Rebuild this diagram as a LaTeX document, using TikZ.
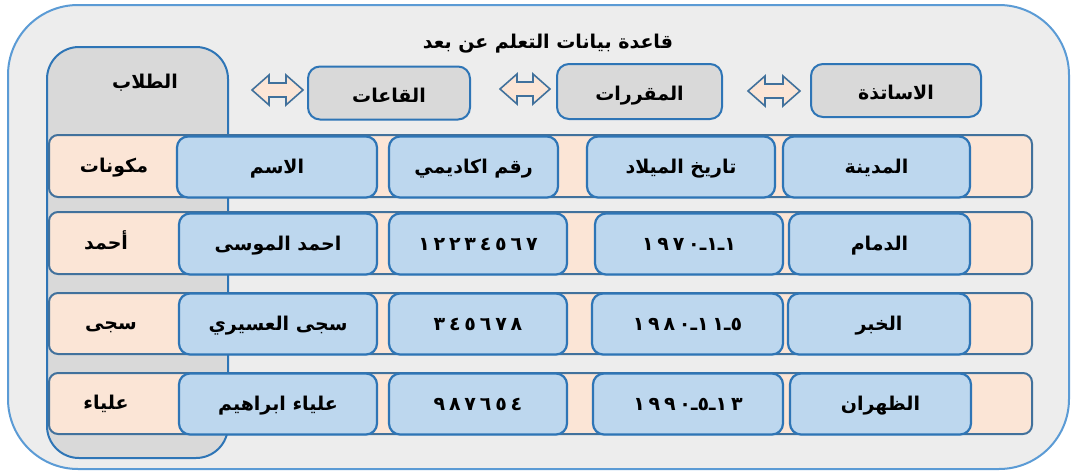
\documentclass[tikz,border=0pt]{standalone}
\usepackage{fontspec}
\TeXXeTstate=1
\newfontfamily\arabicfont[Script=Arabic]{DejaVu Sans}
\newfontfamily\digitfont[LetterSpace=20]{DejaVu Sans}
\newcommand\artext[1]{\beginR #1\endR}
\newcommand\dg[1]{\hbox{\digitfont\bfseries #1}}
\newcommand\dash{\dg{ـ}}

\definecolor{bgfill}{HTML}{EDEDED}
\definecolor{outerline}{HTML}{5B9BD5}
\definecolor{grayfill}{HTML}{D9D9D9}
\definecolor{boxline}{HTML}{2E75B6}
\definecolor{peach}{HTML}{FBE5D6}
\definecolor{rowline}{HTML}{41719C}
\definecolor{bluefill}{HTML}{BDD7EE}

\tikzset{
  every node/.style={font=\arabicfont\bfseries\fontsize{19}{22}\selectfont, text=black,
    inner sep=0pt, text height=15pt, text depth=3pt},
  panel/.style={draw=outerline, line width=2pt, fill=bgfill, rounded corners=70pt},
  graybox/.style={draw=boxline, line width=2pt, fill=grayfill, rounded corners=12pt},
  tablebox/.style={graybox, text height=19pt, text depth=1pt},
  studentbox/.style={graybox, rounded corners=32pt},
  rowbar/.style={draw=rowline, line width=2pt, fill=peach, rounded corners=9pt, minimum width=983pt},
  cell/.style={draw=boxline, line width=2.2pt, fill=bluefill, rounded corners=11pt},
  arrowshape/.style={draw=rowline, line width=1.6pt, fill=peach, line join=miter},
}

% left-right double arrow between x1 and x2, centred on y
\newcommand\dblarrow[3]{%
  \draw[arrowshape] (#1,#3) -- ++(17,15) -- ++(0,-8) -- ({#2-17},{#3+7}) -- ++(0,8)
    -- (#2,#3) -- ++(-17,-15) -- ++(0,8) -- ({#1+17},{#3-7}) -- ++(0,-8) -- cycle;}

\begin{document}
\begin{tikzpicture}[x=1pt,y=-1pt]
\useasboundingbox (0,0) rectangle (1072,471);

% outer frame and title
\node[panel, minimum width=1061pt, minimum height=464pt] (frame) at (538.5,237) {};
\node (title) at (548,42) {\artext{قاعدة بيانات التعلم عن بعد}};

% students column
\node[studentbox, minimum width=181pt, minimum height=411pt] (students) at (137.5,252.5) {};
\node (studentsLabel) at (145,82) {\artext{الطلاب}};

% related tables
\node[tablebox, minimum width=162pt, minimum height=53pt] (halls) at (389,93) {\artext{القاعات}};
\node[tablebox, minimum width=165pt, minimum height=55pt] (courses) at (639.5,91.5) {\artext{المقررات}};
\node[tablebox, minimum width=170pt, minimum height=53pt] (teachers) at (896,90.5) {\artext{الاساتذة}};
\dblarrow{252}{303}{90}
\dblarrow{500}{550}{89}
\dblarrow{748}{800}{91}

% header row
\node[rowbar, minimum height=62pt] (row1) at (540.5,166) {};
\node (lab1) at (114,166) {\artext{مكونات}};
\node[cell, minimum width=200pt, minimum height=61pt] (name1) at (277,167) {\artext{الاسم}};
\node[cell, minimum width=169pt, minimum height=61pt] (num1) at (473.5,167) {\artext{رقم اكاديمي}};
\node[cell, minimum width=188pt, minimum height=61pt] (date1) at (681,167) {\artext{تاريخ الميلاد}};
\node[cell, minimum width=187pt, minimum height=61pt] (city1) at (876.5,167) {\artext{المدينة}};

% record 1
\node[rowbar, minimum height=62pt] (row2) at (540.5,243) {};
\node (lab2) at (106,243) {\artext{أحمد}};
\node[cell, minimum width=198pt, minimum height=61pt] (name2) at (278,244) {\artext{احمد الموسى}};
\node[cell, minimum width=178pt, minimum height=61pt] (num2) at (478,244) {\dg{١٢٢٣٤٥٦٧}};
\node[cell, minimum width=188pt, minimum height=61pt] (date2) at (689,244) {\dg{١٩٧٠}\dash\dg{١}\dash\dg{١}};
\node[cell, minimum width=181pt, minimum height=61pt] (city2) at (879.5,244) {\artext{الدمام}};

% record 2
\node[rowbar, minimum height=61pt] (row3) at (540.5,323.5) {};
\node (lab3) at (111,323) {\artext{سجى}};
\node[cell, minimum width=198pt, minimum height=61pt] (name3) at (278,324) {\artext{سجى العسيري}};
\node[cell, minimum width=178pt, minimum height=61pt] (num3) at (478,324) {\dg{٣٤٥٦٧٨}};
\node[cell, minimum width=191pt, minimum height=61pt] (date3) at (687.5,324) {\dg{١٩٨٠}\dash\dg{١١}\dash\dg{٥}};
\node[cell, minimum width=182pt, minimum height=61pt] (city3) at (879,324) {\artext{الخبر}};

% record 3
\node[rowbar, minimum height=61pt] (row4) at (540.5,403.5) {};
\node (lab4) at (106,403) {\artext{علياء}};
\node[cell, minimum width=198pt, minimum height=61pt] (name4) at (278,404) {\artext{علياء ابراهيم}};
\node[cell, minimum width=178pt, minimum height=61pt] (num4) at (478,404) {\dg{٩٨٧٦٥٤}};
\node[cell, minimum width=190pt, minimum height=61pt] (date4) at (688,404) {\dg{١٩٩٠}\dash\dg{٥}\dash\dg{١٣}};
\node[cell, minimum width=181pt, minimum height=61pt] (city4) at (880.5,404) {\artext{الظهران}};
\end{tikzpicture}
\end{document}
